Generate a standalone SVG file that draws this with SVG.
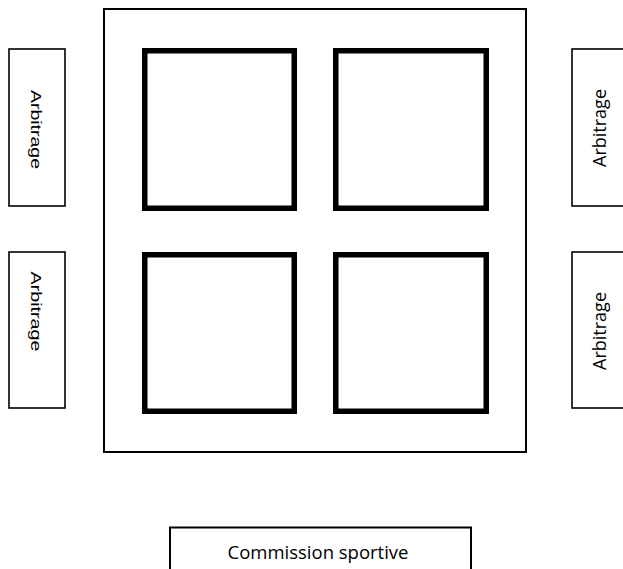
<svg xmlns="http://www.w3.org/2000/svg" width="623" height="569" viewBox="0 0 623 569">
  <style>
    .thin { fill: #ffffff; stroke: #000000; stroke-width: 1.6; }
    .frame { fill: #ffffff; stroke: #000000; stroke-width: 2; }
    .sq { fill: #ffffff; stroke: #000000; stroke-width: 5.5; }
    .arial { font-family: "Liberation Sans", Arial, sans-serif; font-size: 14px; fill: #000000; }
    .cal { font-family: "Open Sans", "Liberation Sans", sans-serif; font-size: 18px; fill: #000000; }
  </style>
  <rect x="0" y="0" width="623" height="569" fill="#ffffff"/>
  <g id="terrain">
    <rect class="frame" x="104" y="9" width="422" height="443"/>
  </g>
  <g id="zone-1">
    <rect class="sq" x="144.75" y="50.75" width="149.5" height="157.5"/>
  </g>
  <g id="zone-2">
    <rect class="sq" x="335.75" y="50.75" width="150.5" height="157.5"/>
  </g>
  <g id="zone-3">
    <rect class="sq" x="144.75" y="254.75" width="149.5" height="156.5"/>
  </g>
  <g id="zone-4">
    <rect class="sq" x="335.75" y="254.75" width="150.5" height="156.5"/>
  </g>
  <g id="arbitrage-left-top">
    <rect class="thin" x="9" y="49" width="56" height="157"/>
    <text class="arial" transform="translate(36,129.5) rotate(90)" x="0" y="5" text-anchor="middle" textLength="79" lengthAdjust="spacingAndGlyphs">Arbitrage</text>
  </g>
  <g id="arbitrage-left-bottom">
    <rect class="thin" x="9" y="252" width="56" height="156"/>
    <text class="arial" transform="translate(36,311.5) rotate(90)" x="0" y="5" text-anchor="middle" textLength="80" lengthAdjust="spacingAndGlyphs">Arbitrage</text>
  </g>
  <g id="arbitrage-right-top">
    <rect class="thin" x="572" y="49" width="60" height="157"/>
    <text class="cal" transform="translate(606,128) rotate(-90)" x="0" y="0" text-anchor="middle" textLength="78" lengthAdjust="spacingAndGlyphs">Arbitrage</text>
  </g>
  <g id="arbitrage-right-bottom">
    <rect class="thin" x="572" y="252" width="60" height="156"/>
    <text class="cal" transform="translate(606,331) rotate(-90)" x="0" y="0" text-anchor="middle" textLength="78" lengthAdjust="spacingAndGlyphs">Arbitrage</text>
  </g>
  <g id="commission-sportive">
    <rect class="frame" x="170" y="527.5" width="301" height="60"/>
    <text class="cal" x="318" y="559" text-anchor="middle" textLength="181" lengthAdjust="spacingAndGlyphs">Commission sportive</text>
  </g>
  <g id="connectors"/>
</svg>
